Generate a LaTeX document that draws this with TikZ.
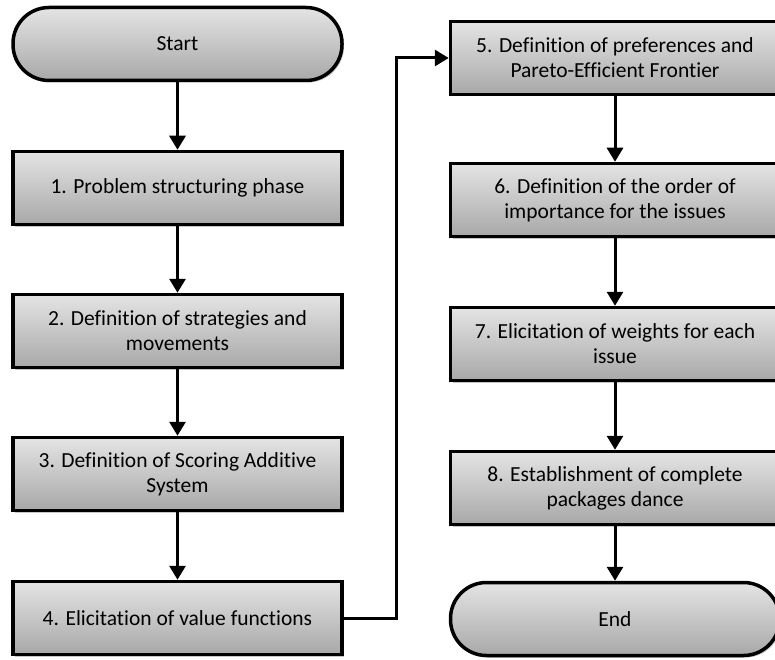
\documentclass[tikz,border=0pt]{standalone}
\usepackage{fontspec}
\setmainfont[RawFeature={-liga;-clig;-calt;-dlig}]{Carlito}
\usetikzlibrary{positioning,arrows.meta,shadows}
\definecolor{boxhaut}{RGB}{228,228,228}
\definecolor{boxbas}{RGB}{168,168,168}
\tikzset{
  etape/.style={rectangle, draw=black, line width=3.5pt, top color=boxhaut, bottom color=boxbas,
    minimum width=329pt, minimum height=73pt, align=center, font=\fontsize{21.5}{25}\selectfont,
    drop shadow={shadow xshift=2pt, shadow yshift=-2pt, fill=gray!45, opacity=1}},
  terminal/.style={etape, rounded corners=36pt},
  fleche/.style={-{Triangle[width=16pt,length=14pt]}, line width=3pt}
}

\begin{document}
\begin{tikzpicture}[x=1pt, y=-1pt]
    \useasboundingbox (0,0) rectangle (775,660);
    \clip (0,0) rectangle (775,660);

    % Colonne gauche
    \node[terminal] (start) at (177.5,44) {Start};
    \node[etape] (s1) at (177.5,188) {1. Problem structuring phase};
    \node[etape] (s2) at (177.5,331) {2. Definition of strategies and\\movements};
    \node[etape] (s3) at (177.5,474) {3. Definition of Scoring Additive\\System};
    \node[etape] (s4) at (177.5,618) {4. Elicitation of value functions};

    % Colonne droite
    \node[etape] (s5) at (615,58) {5. Definition of preferences and\\Pareto-Efficient Frontier};
    \node[etape] (s6) at (615,200) {6. Definition of the order of\\importance for the issues};
    \node[etape] (s7) at (615,344) {7. Elicitation of weights for each\\issue};
    \node[etape] (s8) at (615,488) {8. Establishment of complete\\packages dance};
    \node[terminal] (fin) at (615,619) {End};

    % Flèches
    \draw[fleche] (start) -- (s1);
    \draw[fleche] (s1) -- (s2);
    \draw[fleche] (s2) -- (s3);
    \draw[fleche] (s3) -- (s4);
    \coordinate (turn) at (396,0);
    \draw[fleche] (s4.east) -- (s4.east -| turn) |- (s5.west);
    \draw[fleche] (s5) -- (s6);
    \draw[fleche] (s6) -- (s7);
    \draw[fleche] (s7) -- (s8);
    \draw[fleche] (s8) -- (fin);
\end{tikzpicture}
\end{document}
